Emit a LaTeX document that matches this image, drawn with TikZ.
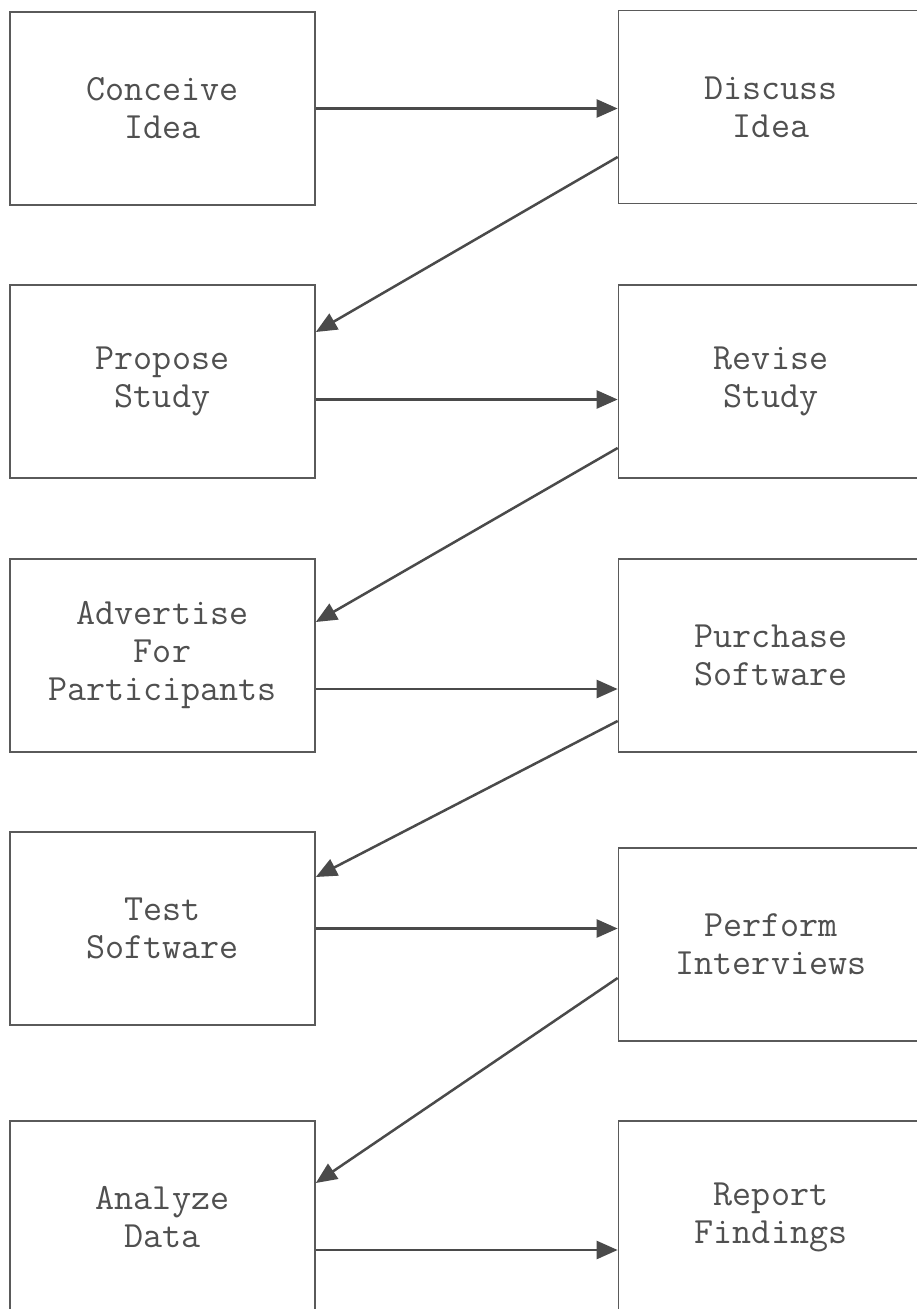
\documentclass[tikz,border=0pt]{standalone}
\usetikzlibrary{arrows.meta}
\definecolor{boxline}{HTML}{5A5A5A}
\definecolor{arrowline}{HTML}{4A4A4A}
\definecolor{txt}{HTML}{505050}
\tikzset{
  stepbox/.style={draw=boxline, line width=1.7pt, minimum width=305pt, minimum height=193pt,
    inner sep=0pt, align=center, text=txt, font=\ttfamily\fontsize{37}{38}\selectfont},
  flow/.style={draw=arrowline, line width=2.5pt, -{Triangle[length=21pt,width=18pt]}}
}
\begin{document}
\begin{tikzpicture}[x=1pt,y=-1pt]
\useasboundingbox (0,0) rectangle (917,1309);
\clip (0,0) rectangle (917,1309);
\fill[white] (0,0) rectangle (917,1309);
\node[stepbox] (c1) at (162.5,108.5) {Conceive\\Idea};
\node[stepbox] (d1) at (771,107) {Discuss\\Idea};
\node[stepbox] (p2) at (162.5,381.5) {Propose\\Study};
\node[stepbox] (r2) at (771,381.5) {Revise\\Study};
\node[stepbox] (a3) at (162.5,655.5) {Advertise\\For\\Participants};
\node[stepbox] (s3) at (771,655.5) {Purchase\\Software};
\node[stepbox] (t4) at (162.5,928.5) {Test\\Software};
\node[stepbox] (i4) at (771,944.5) {Perform\\Interviews};
\node[stepbox] (a5) at (162.5,1217.5) {Analyze\\Data};
\node[stepbox] (f5) at (771,1217.5) {Report\\Findings};
% horizontal arrows
\draw[flow] (c1.east) -- (c1.east -| d1.west);
\draw[flow] ([yshift=-18pt]p2.east) -- ([yshift=-18pt]p2.east -| r2.west);
\draw[flow] ([yshift=-33.5pt]a3.east) -- ([yshift=-33.5pt]a3.east -| s3.west);
\draw[flow] (t4.east) -- (t4.east -| i4.west);
\draw[flow] ([yshift=-32.5pt]a5.east) -- ([yshift=-32.5pt]a5.east -| f5.west);
% diagonal arrows
\draw[flow] ([yshift=-50pt]d1.west) -- ([yshift=49.5pt]p2.east);
\draw[flow] ([yshift=-66.5pt]r2.west) -- ([yshift=33.5pt]a3.east);
\draw[flow] ([yshift=-65.5pt]s3.west) -- ([yshift=51.5pt]t4.east);
\draw[flow] ([yshift=-33.5pt]i4.west) -- ([yshift=34.5pt]a5.east);
\end{tikzpicture}
\end{document}
